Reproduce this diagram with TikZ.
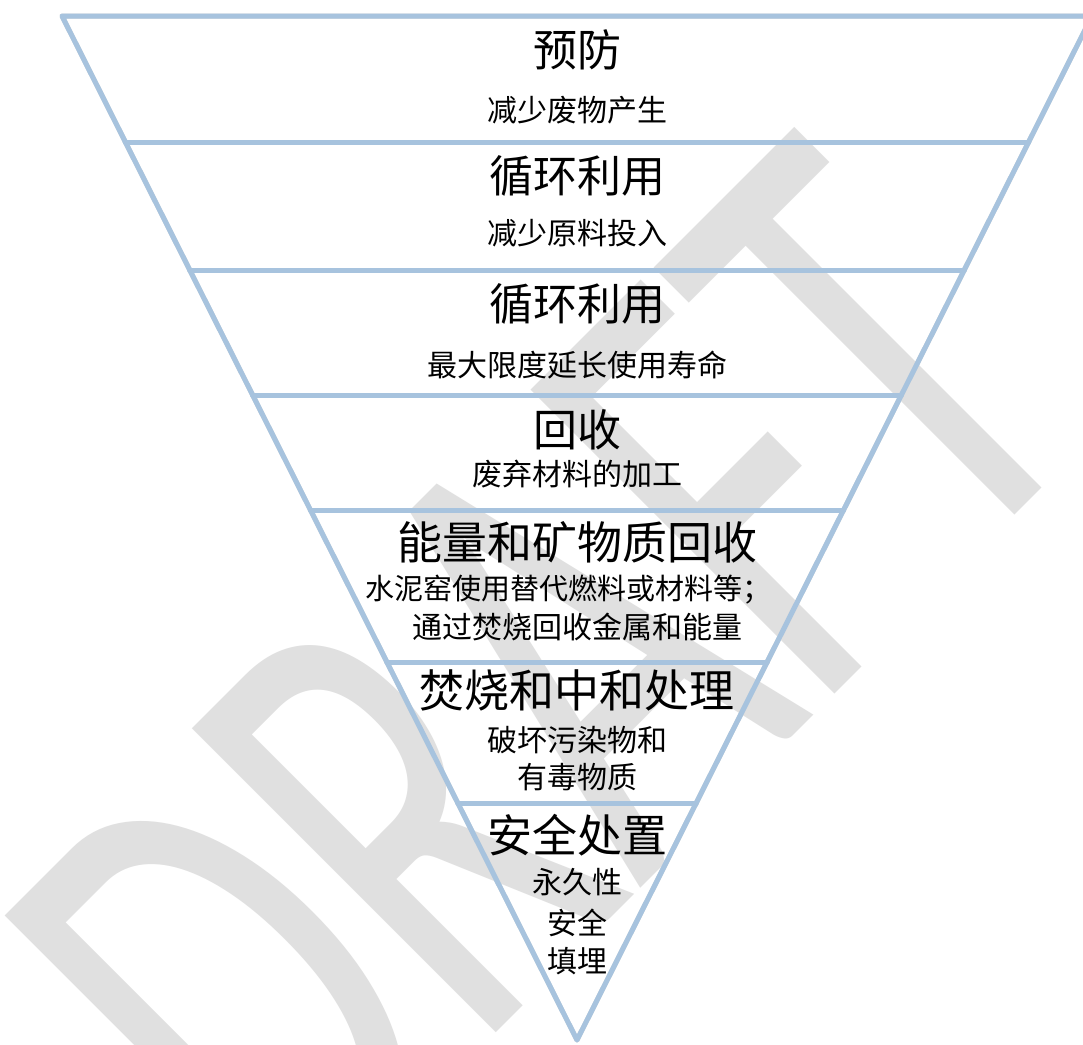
\documentclass[tikz,border=0pt]{standalone}
\usepackage{fontspec}
\newfontfamily\cjk{Noto Sans CJK SC}
\newfontfamily\wmfont{Carlito}
\usetikzlibrary{calc}
\definecolor{pyrblue}{RGB}{167,195,222}
\definecolor{pyrshadow}{RGB}{216,216,216}
\definecolor{wmgray}{RGB}{224,224,224}
\begin{document}
\begin{tikzpicture}[x=1pt,y=-1pt,
  edge/.style={draw=pyrblue,line width=5pt,line join=round,line cap=round},
  shade/.style={draw=pyrshadow,line width=5pt,line join=round,line cap=round},
  ttl/.style={font=\cjk\fontsize{44}{44}\selectfont,anchor=base,inner sep=0pt},
  ttlb/.style={font=\cjk\fontsize{45}{45}\selectfont,anchor=base,inner sep=0pt},
  sub/.style={font=\cjk\fontsize{30}{30}\selectfont,anchor=base,inner sep=0pt},
  subs/.style={font=\cjk\fontsize{29}{29}\selectfont,anchor=base,inner sep=0pt},
  wm/.style={font=\wmfont\fontsize{670}{670}\selectfont,text=wmgray,inner sep=0pt}]
\useasboundingbox (0,0) rectangle (1083,1044);
\clip (0,0) rectangle (1083,1044);
\fill[white] (0,0) rectangle (1083,1044);
% watermark
\node[wm,rotate=45,xscale=0.64,anchor=base] (wmark) at (695,834) {DRAFT};
% triangle geometry
\coordinate (L0) at (62,16);
\coordinate (R0) at (1092,16);
\coordinate (B) at (577,1040);
\foreach \t/\n in {0.12305/1,0.24805/2,0.37012/3,0.48242/4,0.63086/5,0.76855/6}{
  \coordinate (L\n) at ($(L0)!\t!(B)$);
  \coordinate (R\n) at ($(R0)!\t!(B)$);
}
% shadow
\begin{scope}[shift={(2.5,3)}]
\draw[shade] (L0) -- (R0) -- (B) -- cycle;
\foreach \n in {1,...,6}{\draw[shade] (L\n) -- (R\n);}
\end{scope}
% lines
\draw[edge] (L0) -- (R0) -- (B) -- cycle;
\foreach \n in {1,...,6}{\draw[edge] (L\n) -- (R\n);}
% texts
\node[ttl] (t1) at (577,66) {预防};
\node[sub] (s1) at (577,121) {减少废物产生};
\node[ttl] (t2) at (577,192) {循环利用};
\node[sub] (s2) at (577,244) {减少原料投入};
\node[ttl] (t3) at (577,320) {循环利用};
\node[sub] (s3) at (577,376) {最大限度延长使用寿命};
\node[ttl] (t4) at (577,446) {回收};
\node[sub] (s4) at (577,485) {废弃材料的加工};
\node[ttlb] (t5) at (577,559) {能量和矿物质回收};
\node[subs] (s5a) at (568,599) {水泥窑使用替代燃料或材料等；};
\node[sub] (s5b) at (577,638) {通过焚烧回收金属和能量};
\node[ttlb] (t6) at (577,707) {焚烧和中和处理};
\node[sub] (s6a) at (577,751) {破坏污染物和};
\node[sub] (s6b) at (577,788) {有毒物质};
\node[ttlb] (t7) at (577,852) {安全处置};
\node[sub] (s7a) at (577,893) {永久性};
\node[sub] (s7b) at (577,934) {安全};
\node[sub] (s7c) at (577,972) {填埋};
\end{tikzpicture}
\end{document}
